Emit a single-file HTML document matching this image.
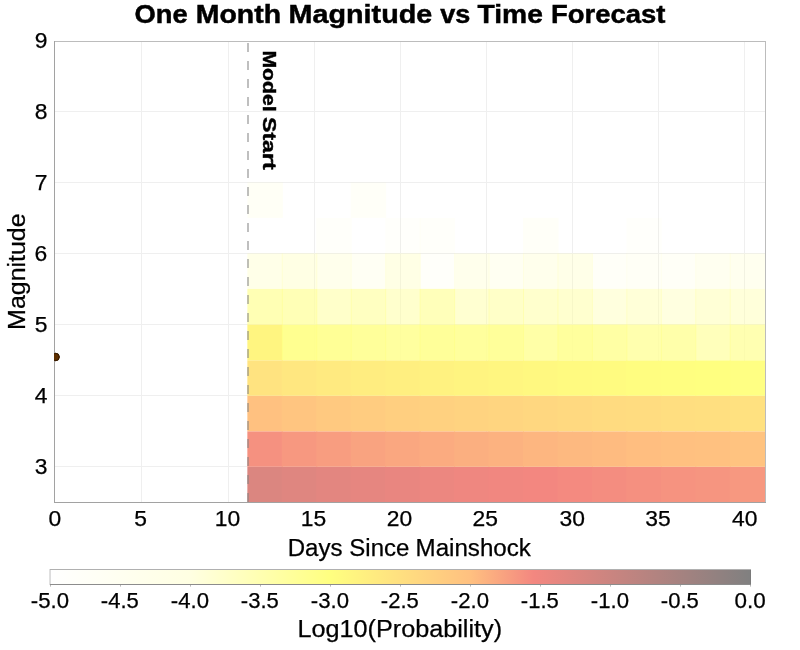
<!DOCTYPE html>
<html><head><meta charset="utf-8"><title>One Month Magnitude vs Time Forecast</title>
<style>html,body{margin:0;padding:0;background:#fff}svg{display:block;position:absolute;left:0;top:0;will-change:transform}text{font-family:"Liberation Sans",sans-serif;fill:#000}</style></head><body>
<svg width="800" height="650" viewBox="0 0 800 650">
<rect width="800" height="650" fill="#fff"/>
<g shape-rendering="crispEdges" stroke="#efefef" stroke-width="1">
<line x1="141.5" y1="41" x2="141.5" y2="503"/>
<line x1="228.5" y1="41" x2="228.5" y2="503"/>
<line x1="314.5" y1="41" x2="314.5" y2="503"/>
<line x1="400.5" y1="41" x2="400.5" y2="503"/>
<line x1="486.5" y1="41" x2="486.5" y2="503"/>
<line x1="572.5" y1="41" x2="572.5" y2="503"/>
<line x1="658.5" y1="41" x2="658.5" y2="503"/>
<line x1="744.5" y1="41" x2="744.5" y2="503"/>
<line x1="54" y1="111.5" x2="766" y2="111.5"/>
<line x1="54" y1="182.5" x2="766" y2="182.5"/>
<line x1="54" y1="253.5" x2="766" y2="253.5"/>
<line x1="54" y1="324.5" x2="766" y2="324.5"/>
<line x1="54" y1="395.5" x2="766" y2="395.5"/>
<line x1="54" y1="466.5" x2="766" y2="466.5"/>
</g>
<clipPath id="c"><rect x="54" y="41" width="712" height="462"/></clipPath>
<g clip-path="url(#c)">
<rect x="247.35" y="466.80" width="35.46" height="35.50" fill="#db8680"/>
<rect x="281.81" y="466.80" width="35.46" height="35.50" fill="#df8680"/>
<rect x="316.26" y="466.80" width="35.46" height="35.50" fill="#e38680"/>
<rect x="350.72" y="466.80" width="35.46" height="35.50" fill="#e68680"/>
<rect x="385.18" y="466.80" width="35.46" height="35.50" fill="#e98680"/>
<rect x="419.63" y="466.80" width="35.46" height="35.50" fill="#ec8780"/>
<rect x="454.09" y="466.80" width="35.46" height="35.50" fill="#ef8780"/>
<rect x="488.54" y="466.80" width="35.46" height="35.50" fill="#f18780"/>
<rect x="523.00" y="466.80" width="35.46" height="35.50" fill="#f38780"/>
<rect x="557.46" y="466.80" width="35.46" height="35.50" fill="#f48a80"/>
<rect x="591.91" y="466.80" width="35.46" height="35.50" fill="#f48d80"/>
<rect x="626.37" y="466.80" width="35.46" height="35.50" fill="#f59080"/>
<rect x="660.82" y="466.80" width="35.46" height="35.50" fill="#f69380"/>
<rect x="695.28" y="466.80" width="35.46" height="35.50" fill="#f69580"/>
<rect x="729.74" y="466.80" width="35.46" height="35.50" fill="#f79880"/>
<rect x="247.35" y="431.30" width="35.46" height="35.50" fill="#f59180"/>
<rect x="281.81" y="431.30" width="35.46" height="35.50" fill="#f79880"/>
<rect x="316.26" y="431.30" width="35.46" height="35.50" fill="#f89d80"/>
<rect x="350.72" y="431.30" width="35.46" height="35.50" fill="#f9a380"/>
<rect x="385.18" y="431.30" width="35.46" height="35.50" fill="#faa780"/>
<rect x="419.63" y="431.30" width="35.46" height="35.50" fill="#fbab80"/>
<rect x="454.09" y="431.30" width="35.46" height="35.50" fill="#fbaf80"/>
<rect x="488.54" y="431.30" width="35.46" height="35.50" fill="#fcb280"/>
<rect x="523.00" y="431.30" width="35.46" height="35.50" fill="#fdb680"/>
<rect x="557.46" y="431.30" width="35.46" height="35.50" fill="#fdb980"/>
<rect x="591.91" y="431.30" width="35.46" height="35.50" fill="#febb80"/>
<rect x="626.37" y="431.30" width="35.46" height="35.50" fill="#ffbe80"/>
<rect x="660.82" y="431.30" width="35.46" height="35.50" fill="#ffc080"/>
<rect x="695.28" y="431.30" width="35.46" height="35.50" fill="#ffc180"/>
<rect x="729.74" y="431.30" width="35.46" height="35.50" fill="#ffc380"/>
<rect x="247.35" y="395.80" width="35.46" height="35.50" fill="#ffc180"/>
<rect x="281.81" y="395.80" width="35.46" height="35.50" fill="#ffc580"/>
<rect x="316.26" y="395.80" width="35.46" height="35.50" fill="#ffc980"/>
<rect x="350.72" y="395.80" width="35.46" height="35.50" fill="#ffcc80"/>
<rect x="385.18" y="395.80" width="35.46" height="35.50" fill="#ffcf80"/>
<rect x="419.63" y="395.80" width="35.46" height="35.50" fill="#ffd180"/>
<rect x="454.09" y="395.80" width="35.46" height="35.50" fill="#ffd380"/>
<rect x="488.54" y="395.80" width="35.46" height="35.50" fill="#ffd580"/>
<rect x="523.00" y="395.80" width="35.46" height="35.50" fill="#ffd780"/>
<rect x="557.46" y="395.80" width="35.46" height="35.50" fill="#ffd980"/>
<rect x="591.91" y="395.80" width="35.46" height="35.50" fill="#ffdb80"/>
<rect x="626.37" y="395.80" width="35.46" height="35.50" fill="#ffdc80"/>
<rect x="660.82" y="395.80" width="35.46" height="35.50" fill="#ffde80"/>
<rect x="695.28" y="395.80" width="35.46" height="35.50" fill="#ffdf80"/>
<rect x="729.74" y="395.80" width="35.46" height="35.50" fill="#ffe180"/>
<rect x="247.35" y="360.30" width="35.46" height="35.50" fill="#ffe380"/>
<rect x="281.81" y="360.30" width="35.46" height="35.50" fill="#ffe780"/>
<rect x="316.26" y="360.30" width="35.46" height="35.50" fill="#ffea80"/>
<rect x="350.72" y="360.30" width="35.46" height="35.50" fill="#ffed80"/>
<rect x="385.18" y="360.30" width="35.46" height="35.50" fill="#ffef80"/>
<rect x="419.63" y="360.30" width="35.46" height="35.50" fill="#fff280"/>
<rect x="454.09" y="360.30" width="35.46" height="35.50" fill="#fff480"/>
<rect x="488.54" y="360.30" width="35.46" height="35.50" fill="#fff680"/>
<rect x="523.00" y="360.30" width="35.46" height="35.50" fill="#fff880"/>
<rect x="557.46" y="360.30" width="35.46" height="35.50" fill="#fffa80"/>
<rect x="591.91" y="360.30" width="35.46" height="35.50" fill="#fffb80"/>
<rect x="626.37" y="360.30" width="35.46" height="35.50" fill="#fffd80"/>
<rect x="660.82" y="360.30" width="35.46" height="35.50" fill="#fffe80"/>
<rect x="695.28" y="360.30" width="35.46" height="35.50" fill="#ffff80" fill-opacity="0.995"/>
<rect x="729.74" y="360.30" width="35.46" height="35.50" fill="#ffff81" fill-opacity="0.985"/>
<rect x="247.35" y="324.40" width="35.46" height="35.90" fill="#fff580"/>
<rect x="281.81" y="324.40" width="35.46" height="35.90" fill="#ffff86" fill-opacity="0.915"/>
<rect x="316.26" y="324.40" width="35.46" height="35.90" fill="#ffff89" fill-opacity="0.890"/>
<rect x="350.72" y="324.40" width="35.46" height="35.90" fill="#ffff8b" fill-opacity="0.865"/>
<rect x="385.18" y="324.40" width="35.46" height="35.90" fill="#ffff8d" fill-opacity="0.840"/>
<rect x="419.63" y="324.40" width="35.46" height="35.90" fill="#ffff8a" fill-opacity="0.875"/>
<rect x="454.09" y="324.40" width="35.46" height="35.90" fill="#ffff8c" fill-opacity="0.855"/>
<rect x="488.54" y="324.40" width="35.46" height="35.90" fill="#ffff8b" fill-opacity="0.865"/>
<rect x="523.00" y="324.40" width="35.46" height="35.90" fill="#ffff91" fill-opacity="0.805"/>
<rect x="557.46" y="324.40" width="35.46" height="35.90" fill="#ffff8c" fill-opacity="0.855"/>
<rect x="591.91" y="324.40" width="35.46" height="35.90" fill="#ffff90" fill-opacity="0.815"/>
<rect x="626.37" y="324.40" width="35.46" height="35.90" fill="#ffff95" fill-opacity="0.770"/>
<rect x="660.82" y="324.40" width="35.46" height="35.90" fill="#ffff93" fill-opacity="0.785"/>
<rect x="695.28" y="324.40" width="35.46" height="35.90" fill="#ffff99" fill-opacity="0.670"/>
<rect x="729.74" y="324.40" width="35.46" height="35.90" fill="#ffff97" fill-opacity="0.750"/>
<rect x="247.35" y="288.90" width="35.46" height="35.50" fill="#ffff98" fill-opacity="0.726"/>
<rect x="281.81" y="288.90" width="35.46" height="35.50" fill="#ffff98" fill-opacity="0.710"/>
<rect x="316.26" y="288.90" width="35.46" height="35.50" fill="#ffff9e" fill-opacity="0.550"/>
<rect x="350.72" y="288.90" width="35.46" height="35.50" fill="#ffff9b" fill-opacity="0.614"/>
<rect x="385.18" y="288.90" width="35.46" height="35.50" fill="#ffff9f" fill-opacity="0.518"/>
<rect x="419.63" y="288.90" width="35.46" height="35.50" fill="#ffff99" fill-opacity="0.678"/>
<rect x="454.09" y="288.90" width="35.46" height="35.50" fill="#ffffa1" fill-opacity="0.486"/>
<rect x="488.54" y="288.90" width="35.46" height="35.50" fill="#ffff9d" fill-opacity="0.566"/>
<rect x="523.00" y="288.90" width="35.46" height="35.50" fill="#ffff9f" fill-opacity="0.518"/>
<rect x="557.46" y="288.90" width="35.46" height="35.50" fill="#ffffa0" fill-opacity="0.502"/>
<rect x="591.91" y="288.90" width="35.46" height="35.50" fill="#ffffa9" fill-opacity="0.382"/>
<rect x="626.37" y="288.90" width="35.46" height="35.50" fill="#ffffa5" fill-opacity="0.430"/>
<rect x="660.82" y="288.90" width="35.46" height="35.50" fill="#ffffaa" fill-opacity="0.366"/>
<rect x="695.28" y="288.90" width="35.46" height="35.50" fill="#ffffa4" fill-opacity="0.446"/>
<rect x="729.74" y="288.90" width="35.46" height="35.50" fill="#ffffa6" fill-opacity="0.414"/>
<rect x="247.35" y="253.40" width="35.46" height="35.50" fill="#ffffaf" fill-opacity="0.284"/>
<rect x="281.81" y="253.40" width="35.46" height="35.50" fill="#ffffad" fill-opacity="0.326"/>
<rect x="316.26" y="253.40" width="35.46" height="35.50" fill="#ffffb2" fill-opacity="0.245"/>
<rect x="350.72" y="253.40" width="35.46" height="35.50" fill="#ffffb6" fill-opacity="0.148"/>
<rect x="385.18" y="253.40" width="35.46" height="35.50" fill="#ffffae" fill-opacity="0.317"/>
<rect x="419.63" y="253.40" width="35.46" height="35.50" fill="#ffffb6" fill-opacity="0.064"/>
<rect x="454.09" y="253.40" width="35.46" height="35.50" fill="#ffffb2" fill-opacity="0.245"/>
<rect x="488.54" y="253.40" width="35.46" height="35.50" fill="#ffffb6" fill-opacity="0.176"/>
<rect x="523.00" y="253.40" width="35.46" height="35.50" fill="#ffffb2" fill-opacity="0.245"/>
<rect x="557.46" y="253.40" width="35.46" height="35.50" fill="#ffffaf" fill-opacity="0.284"/>
<rect x="591.91" y="253.40" width="35.46" height="35.50" fill="#ffffb6" fill-opacity="0.092"/>
<rect x="626.37" y="253.40" width="35.46" height="35.50" fill="#ffffb7" fill-opacity="0.120"/>
<rect x="660.82" y="253.40" width="35.46" height="35.50" fill="#ffffb7" fill-opacity="0.104"/>
<rect x="695.28" y="253.40" width="35.46" height="35.50" fill="#ffffb6" fill-opacity="0.203"/>
<rect x="729.74" y="253.40" width="35.46" height="35.50" fill="#ffffb4" fill-opacity="0.221"/>
<rect x="316.26" y="217.90" width="35.46" height="35.50" fill="#ffffb6" fill-opacity="0.068"/>
<rect x="385.18" y="217.90" width="35.46" height="35.50" fill="#ffffb6" fill-opacity="0.056"/>
<rect x="419.63" y="217.90" width="35.46" height="35.50" fill="#ffffb6" fill-opacity="0.068"/>
<rect x="523.00" y="217.90" width="35.46" height="35.50" fill="#ffffb6" fill-opacity="0.096"/>
<rect x="626.37" y="217.90" width="35.46" height="35.50" fill="#ffffb6" fill-opacity="0.056"/>
<rect x="247.35" y="182.40" width="35.46" height="35.50" fill="#ffffb7" fill-opacity="0.124"/>
<rect x="350.72" y="182.40" width="35.46" height="35.50" fill="#ffffb6" fill-opacity="0.096"/>
<line x1="248" y1="502" x2="248" y2="41" stroke="#808080" stroke-opacity="0.5" stroke-width="2" stroke-dasharray="9 9"/>
<circle cx="55.6" cy="357" r="3.65" fill="#5e2f00" stroke="#351a00" stroke-width="1"/>
</g>
<g shape-rendering="crispEdges" fill="none" stroke-width="1"><path d="M54 41.5H766M765.5 41V503" stroke="#bcbcbc"/><path d="M54.5 41V503M54 502.5H766" stroke="#a2a2a2"/></g>
<g clip-path="url(#c)"><circle cx="55.6" cy="357" r="3.65" fill="#5e2f00" stroke="#351a00" stroke-width="1"/></g>
<defs><linearGradient id="g" x1="0" y1="0" x2="1" y2="0">
<stop offset="0.0000" stop-color="#ffffff"/>
<stop offset="0.2000" stop-color="#ffffe2"/>
<stop offset="0.4000" stop-color="#ffff80"/>
<stop offset="0.6000" stop-color="#ffc080"/>
<stop offset="0.6900" stop-color="#f38780"/>
<stop offset="1.0000" stop-color="#808080"/>
</linearGradient></defs>
<rect x="50" y="569" width="701" height="16" fill="url(#g)"/>
<rect x="49.2" y="569" width="1.7" height="16" fill="#d9d9d9"/>
<g shape-rendering="crispEdges" stroke-width="1" fill="none"><path d="M50 569.5H751" stroke="#b0b0b0"/><path d="M50 584.5H751" stroke="#8c8c8c"/><path d="M750.5 570V584" stroke="#777" stroke-opacity="0.6"/>
<line x1="50.5" y1="585" x2="50.5" y2="586.6" stroke="#b8b8b8" shape-rendering="auto"/>
<line x1="120.5" y1="585" x2="120.5" y2="586.6" stroke="#b8b8b8" shape-rendering="auto"/>
<line x1="190.5" y1="585" x2="190.5" y2="586.6" stroke="#b8b8b8" shape-rendering="auto"/>
<line x1="260.5" y1="585" x2="260.5" y2="586.6" stroke="#b8b8b8" shape-rendering="auto"/>
<line x1="330.5" y1="585" x2="330.5" y2="586.6" stroke="#b8b8b8" shape-rendering="auto"/>
<line x1="400.5" y1="585" x2="400.5" y2="586.6" stroke="#b8b8b8" shape-rendering="auto"/>
<line x1="470.5" y1="585" x2="470.5" y2="586.6" stroke="#b8b8b8" shape-rendering="auto"/>
<line x1="540.5" y1="585" x2="540.5" y2="586.6" stroke="#b8b8b8" shape-rendering="auto"/>
<line x1="610.5" y1="585" x2="610.5" y2="586.6" stroke="#b8b8b8" shape-rendering="auto"/>
<line x1="680.5" y1="585" x2="680.5" y2="586.6" stroke="#b8b8b8" shape-rendering="auto"/>
<line x1="750.5" y1="585" x2="750.5" y2="586.6" stroke="#b8b8b8" shape-rendering="auto"/>
</g>
<text transform="translate(0,22.80)" font-size="25.4" font-weight="bold" stroke="#000" stroke-width="0.45"><tspan x="134.62" textLength="53.14" lengthAdjust="spacingAndGlyphs">One</tspan> <tspan x="195.74" textLength="85.38" lengthAdjust="spacingAndGlyphs">Month</tspan> <tspan x="288.52" textLength="143.75" lengthAdjust="spacingAndGlyphs">Magnitude</tspan> <tspan x="440.17" textLength="30.1" lengthAdjust="spacingAndGlyphs">vs</tspan> <tspan x="477.52" textLength="65.39" lengthAdjust="spacingAndGlyphs">Time</tspan> <tspan x="550.91" textLength="114.5" lengthAdjust="spacingAndGlyphs">Forecast</tspan></text>
<text transform="translate(0,48.00)" font-size="21.2" stroke="#000" stroke-width="0.25"><tspan x="34.76" textLength="12.72" lengthAdjust="spacingAndGlyphs">9</tspan></text>
<text transform="translate(0,118.90)" font-size="21.2" stroke="#000" stroke-width="0.25"><tspan x="34.76" textLength="12.72" lengthAdjust="spacingAndGlyphs">8</tspan></text>
<text transform="translate(0,189.90)" font-size="21.2" stroke="#000" stroke-width="0.25"><tspan x="34.69" textLength="12.72" lengthAdjust="spacingAndGlyphs">7</tspan></text>
<text transform="translate(0,260.90)" font-size="21.2" stroke="#000" stroke-width="0.25"><tspan x="34.63" textLength="12.72" lengthAdjust="spacingAndGlyphs">6</tspan></text>
<text transform="translate(0,331.90)" font-size="21.2" stroke="#000" stroke-width="0.25"><tspan x="34.76" textLength="12.72" lengthAdjust="spacingAndGlyphs">5</tspan></text>
<text transform="translate(0,402.90)" font-size="21.2" stroke="#000" stroke-width="0.25"><tspan x="34.83" textLength="12.72" lengthAdjust="spacingAndGlyphs">4</tspan></text>
<text transform="translate(0,473.90)" font-size="21.2" stroke="#000" stroke-width="0.25"><tspan x="34.76" textLength="12.72" lengthAdjust="spacingAndGlyphs">3</tspan></text>
<text transform="translate(0,525.80)" font-size="21.2" stroke="#000" stroke-width="0.25"><tspan x="48.44" textLength="12.72" lengthAdjust="spacingAndGlyphs">0</tspan></text>
<text transform="translate(0,525.80)" font-size="21.2" stroke="#000" stroke-width="0.25"><tspan x="134.36" textLength="12.72" lengthAdjust="spacingAndGlyphs">5</tspan></text>
<text transform="translate(0,525.80)" font-size="21.2" stroke="#000" stroke-width="0.25"><tspan x="214.85" textLength="25.44" lengthAdjust="spacingAndGlyphs">10</tspan></text>
<text transform="translate(0,525.80)" font-size="21.2" stroke="#000" stroke-width="0.25"><tspan x="300.82" textLength="25.44" lengthAdjust="spacingAndGlyphs">15</tspan></text>
<text transform="translate(0,525.80)" font-size="21.2" stroke="#000" stroke-width="0.25"><tspan x="386.69" textLength="25.44" lengthAdjust="spacingAndGlyphs">20</tspan></text>
<text transform="translate(0,525.80)" font-size="21.2" stroke="#000" stroke-width="0.25"><tspan x="472.45" textLength="25.44" lengthAdjust="spacingAndGlyphs">25</tspan></text>
<text transform="translate(0,525.80)" font-size="21.2" stroke="#000" stroke-width="0.25"><tspan x="559.6" textLength="25.44" lengthAdjust="spacingAndGlyphs">30</tspan></text>
<text transform="translate(0,525.80)" font-size="21.2" stroke="#000" stroke-width="0.25"><tspan x="645.32" textLength="25.44" lengthAdjust="spacingAndGlyphs">35</tspan></text>
<text transform="translate(0,525.80)" font-size="21.2" stroke="#000" stroke-width="0.25"><tspan x="732.11" textLength="25.44" lengthAdjust="spacingAndGlyphs">40</tspan></text>
<text transform="translate(0,555.90)" font-size="23.3" stroke="#000" stroke-width="0.25"><tspan x="287.66" textLength="54.8" lengthAdjust="spacingAndGlyphs">Days</tspan> <tspan x="349.34" textLength="60.02" lengthAdjust="spacingAndGlyphs">Since</tspan> <tspan x="415.56" textLength="115.33" lengthAdjust="spacingAndGlyphs">Mainshock</tspan></text>
<text transform="translate(25.10,0) rotate(-90)" font-size="23.3" stroke="#000" stroke-width="0.25"><tspan x="-329.91" textLength="116.54" lengthAdjust="spacingAndGlyphs">Magnitude</tspan></text>
<text transform="translate(262.80,0) rotate(90)" font-size="19.1" font-weight="bold" stroke="#000" stroke-width="0.45"><tspan x="50.42" textLength="61.12" lengthAdjust="spacingAndGlyphs">Model</tspan> <tspan x="116.94" textLength="52.78" lengthAdjust="spacingAndGlyphs">Start</tspan></text>
<text transform="translate(0,607.70)" font-size="21.2" stroke="#000" stroke-width="0.25"><tspan x="30.84" textLength="38.18" lengthAdjust="spacingAndGlyphs">-5.0</tspan></text>
<text transform="translate(0,607.70)" font-size="21.2" stroke="#000" stroke-width="0.25"><tspan x="100.84" textLength="38.0" lengthAdjust="spacingAndGlyphs">-4.5</tspan></text>
<text transform="translate(0,607.70)" font-size="21.2" stroke="#000" stroke-width="0.25"><tspan x="170.84" textLength="38.18" lengthAdjust="spacingAndGlyphs">-4.0</tspan></text>
<text transform="translate(0,607.70)" font-size="21.2" stroke="#000" stroke-width="0.25"><tspan x="240.84" textLength="38.0" lengthAdjust="spacingAndGlyphs">-3.5</tspan></text>
<text transform="translate(0,607.70)" font-size="21.2" stroke="#000" stroke-width="0.25"><tspan x="310.84" textLength="38.18" lengthAdjust="spacingAndGlyphs">-3.0</tspan></text>
<text transform="translate(0,607.70)" font-size="21.2" stroke="#000" stroke-width="0.25"><tspan x="380.84" textLength="38.0" lengthAdjust="spacingAndGlyphs">-2.5</tspan></text>
<text transform="translate(0,607.70)" font-size="21.2" stroke="#000" stroke-width="0.25"><tspan x="450.84" textLength="38.18" lengthAdjust="spacingAndGlyphs">-2.0</tspan></text>
<text transform="translate(0,607.70)" font-size="21.2" stroke="#000" stroke-width="0.25"><tspan x="520.84" textLength="38.0" lengthAdjust="spacingAndGlyphs">-1.5</tspan></text>
<text transform="translate(0,607.70)" font-size="21.2" stroke="#000" stroke-width="0.25"><tspan x="590.84" textLength="38.18" lengthAdjust="spacingAndGlyphs">-1.0</tspan></text>
<text transform="translate(0,607.70)" font-size="21.2" stroke="#000" stroke-width="0.25"><tspan x="660.84" textLength="38.0" lengthAdjust="spacingAndGlyphs">-0.5</tspan></text>
<text transform="translate(0,607.70)" font-size="21.2" stroke="#000" stroke-width="0.25"><tspan x="734.57" textLength="31.22" lengthAdjust="spacingAndGlyphs">0.0</tspan></text>
<text transform="translate(0,636.80)" font-size="23.3" stroke="#000" stroke-width="0.25"><tspan x="297.47" textLength="204.61" lengthAdjust="spacingAndGlyphs">Log10(Probability)</tspan></text>
</svg></body></html>
